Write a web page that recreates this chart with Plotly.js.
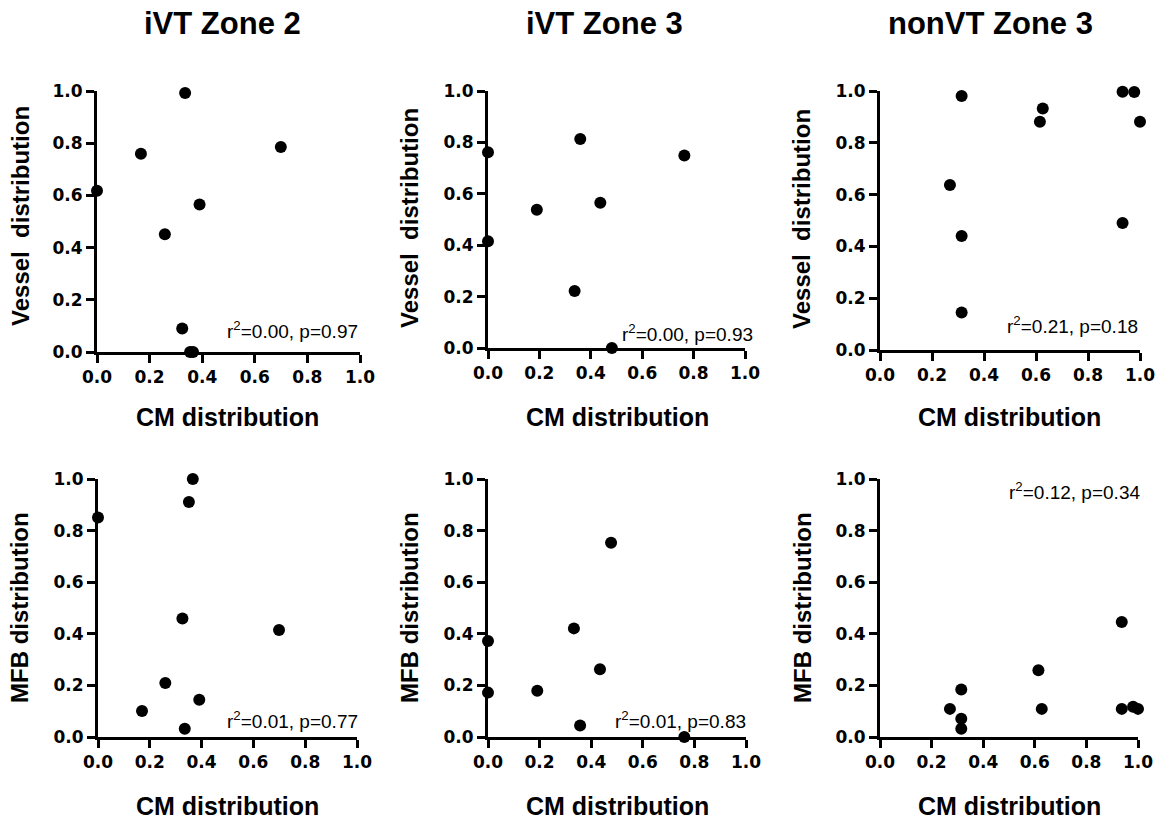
<!DOCTYPE html>
<html><head><meta charset="utf-8">
<script src="https://cdn.plot.ly/plotly-3.0.1.min.js"></script>
<style>html,body{margin:0;padding:0;background:#fff}#chart{width:1161px;height:821px}</style>
</head><body><div id="chart"></div>
<script>
// ---- data ----
const panelTitles = ["iVT Zone 2", "iVT Zone 3", "nonVT Zone 3"];
const xAxisTitle = "CM distribution";
const yAxisTitles = ["Vessel\u00a0 distribution", "MFB distribution"];
const tickVals = [0, 0.2, 0.4, 0.6, 0.8, 1.0];
const tickText = ["0.0", "0.2", "0.4", "0.6", "0.8", "1.0"];

const ivt2VesselCM = [0, 0.167, 0.335, 0.699, 0.39, 0.258, 0.324, 0.354, 0.365];
const ivt2Vessel   = [0.618, 0.76, 0.992, 0.785, 0.565, 0.451, 0.09, 0, 0];
const ivt3VesselCM = [0, 0, 0.359, 0.764, 0.437, 0.19, 0.337, 0.482];
const ivt3Vessel   = [0.762, 0.415, 0.813, 0.749, 0.565, 0.538, 0.222, 0];
const nonvt3VesselCM = [0.314, 0.269, 0.314, 0.314, 0.615, 0.626, 0.933, 0.978, 1.0, 0.933];
const nonvt3Vessel   = [0.981, 0.637, 0.44, 0.145, 0.881, 0.932, 0.997, 0.996, 0.881, 0.49];

const ivt2MfbCM = [0.366, 0.351, 0, 0.326, 0.699, 0.26, 0.17, 0.391, 0.335];
const ivt2Mfb   = [1.0, 0.911, 0.851, 0.459, 0.415, 0.209, 0.101, 0.144, 0.032];
const ivt3MfbCM = [0, 0, 0.191, 0.333, 0.434, 0.477, 0.357, 0.761];
const ivt3Mfb   = [0.372, 0.172, 0.179, 0.421, 0.263, 0.753, 0.045, 0];
const nonvt3MfbCM = [0.271, 0.315, 0.315, 0.315, 0.614, 0.627, 0.937, 0.937, 0.981, 1.0];
const nonvt3Mfb   = [0.109, 0.184, 0.071, 0.032, 0.259, 0.109, 0.446, 0.109, 0.117, 0.109];

const statTexts = [
  "r<sup>2</sup>=0.00, p=0.97", "r<sup>2</sup>=0.00, p=0.93", "r<sup>2</sup>=0.21, p=0.18",
  "r<sup>2</sup>=0.01, p=0.77", "r<sup>2</sup>=0.01, p=0.83", "r<sup>2</sup>=0.12, p=0.34"
];

// ---- layout geometry (pixels) ----
const W = 1161, H = 821;
const px = v => v / W;
const py = v => 1 - v / H;

const panels = [
  {x: ivt2VesselCM,   y: ivt2Vessel,   l: 97,  r: 360,  t: 91,  b: 352, ytitleX: 20,  ytitleY: 216, stat: [360, 330]},
  {x: ivt3VesselCM,   y: ivt3Vessel,   l: 488, r: 745,  t: 91,  b: 348, ytitleX: 410, ytitleY: 218, stat: [755, 333]},
  {x: nonvt3VesselCM, y: nonvt3Vessel, l: 880, r: 1140, t: 91,  b: 350, ytitleX: 802, ytitleY: 219, stat: [1140, 325]},
  {x: ivt2MfbCM,      y: ivt2Mfb,      l: 98,  r: 357,  t: 479, b: 737, ytitleX: 19,  ytitleY: 608, stat: [360, 720]},
  {x: ivt3MfbCM,      y: ivt3Mfb,      l: 488, r: 746,  t: 479, b: 737, ytitleX: 409, ytitleY: 608, stat: [748, 720]},
  {x: nonvt3MfbCM,    y: nonvt3Mfb,    l: 880, r: 1138, t: 479, b: 737, ytitleX: 802, ytitleY: 608, stat: [1142, 491]}
];
const colTitleX = [222, 604, 990];
const xTitleX = [227, 617, 1009];
const xTitleY = [417, 806];

const data = [];
const layout = {
  width: W, height: H,
  margin: {l: 0, r: 0, t: 0, b: 0},
  paper_bgcolor: "#fff", plot_bgcolor: "rgba(0,0,0,0)",
  showlegend: false,
  annotations: []
};

panels.forEach((p, i) => {
  const n = i + 1;
  const sfx = n === 1 ? "" : String(n);
  data.push({
    type: "scatter", mode: "markers", x: p.x, y: p.y,
    xaxis: "x" + sfx, yaxis: "y" + sfx, cliponaxis: false,
    marker: {color: "#000", size: 12}
  });
  const mk = () => ({
    range: [0, 1], tickmode: "array", tickvals: tickVals, ticktext: tickText,
    showgrid: false, zeroline: false, showline: true,
    linecolor: "#000", linewidth: 3, ticks: "outside",
    ticklen: 8, tickwidth: 3, tickcolor: "#000",
    tickfont: {family: "DejaVu Sans", size: 17, color: "#000", weight: "bold"}
  });
  layout["xaxis" + sfx] = Object.assign(mk(), {domain: [px(p.l), px(p.r)], anchor: "y" + sfx});
  layout["yaxis" + sfx] = Object.assign(mk(), {domain: [py(p.b), py(p.t)], anchor: "x" + sfx});
  const row = i < 3 ? 0 : 1;
  const col = i % 3;
  layout.annotations.push({
    xref: "paper", yref: "paper", x: px(p.ytitleX), y: py(p.ytitleY),
    xanchor: "center", yanchor: "middle", textangle: -90, showarrow: false,
    text: yAxisTitles[row],
    font: {family: "Liberation Sans, Arial, sans-serif", size: 24, color: "#000", weight: "bold"}
  });
  layout.annotations.push({
    xref: "paper", yref: "paper", x: px(xTitleX[col]), y: py(xTitleY[row]),
    xanchor: "center", yanchor: "middle", showarrow: false,
    text: xAxisTitle,
    font: {family: "Liberation Sans, Arial, sans-serif", size: 25, color: "#000", weight: "bold"}
  });
  layout.annotations.push({
    xref: "paper", yref: "paper", x: px(p.stat[0]), y: py(p.stat[1]),
    xanchor: "right", yanchor: "middle", showarrow: false,
    text: statTexts[i],
    font: {family: "Liberation Sans, Arial, sans-serif", size: 19, color: "#000"}
  });
});

panelTitles.forEach((t, c) => {
  layout.annotations.push({
    xref: "paper", yref: "paper", x: px(colTitleX[c]), y: py(24),
    xanchor: "center", yanchor: "middle", showarrow: false,
    text: t,
    font: {family: "Liberation Sans, Arial, sans-serif", size: 31, color: "#000", weight: "bold"}
  });
});

Plotly.newPlot("chart", data, layout, {displayModeBar: false, staticPlot: true});
</script>
</body></html>
